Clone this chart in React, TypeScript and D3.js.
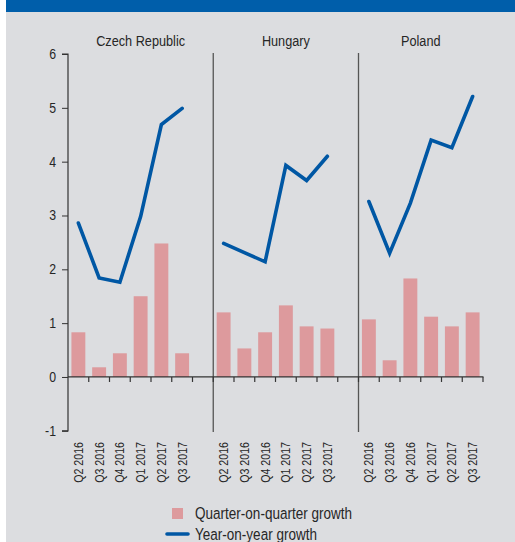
import React, { useEffect, useRef } from 'react';
import * as d3 from 'd3';

const countries = ['Czech Republic', 'Hungary', 'Poland'];
const quarters = ['Q2 2016', 'Q3 2016', 'Q4 2016', 'Q1 2017', 'Q2 2017', 'Q3 2017'];

// quarter-on-quarter growth (bars)
const qoqCzech = [0.83, 0.18, 0.44, 1.5, 2.48, 0.44];
const qoqHungary = [1.2, 0.53, 0.83, 1.33, 0.94, 0.9];
const qoqPoland = [1.07, 0.31, 1.83, 1.12, 0.94, 1.2];

// year-on-year growth (lines)
const yoyCzech = [2.86, 1.84, 1.76, 2.98, 4.69, 4.99];
const yoyHungary = [2.48, 2.31, 2.14, 3.93, 3.65, 4.1];
const yoyPoland = [3.26, 2.3, 3.23, 4.4, 4.26, 5.21];

const yTicks = [-1, 0, 1, 2, 3, 4, 5, 6];

const W = 515;
const H = 542;
const FONT = '"Liberation Sans", Arial, sans-serif';
const NARROW = 0.82; // squeeze to get an Arial Narrow look
const BAR = '#dd9a9d';
const LINE = '#0057a4';

export default function App() {
    const ref = useRef<SVGSVGElement>(null);

    useEffect(() => {
        draw(ref.current!);
    }, []);

    return (
        <div style={{ position: 'fixed', left: 0, top: 0 }}>
            <svg ref={ref} width={W} height={H} />
        </div>
    );
}

const label = (g: any, tx: number, ty: number, txt: string, size: number, anchor: string, rot = 0) => {
    return g.append('text')
        .attr('transform', `translate(${tx},${ty})${rot ? ` rotate(${rot})` : ''} scale(${NARROW},1)`)
        .attr('text-anchor', anchor)
        .attr('font-family', FONT)
        .attr('font-size', size)
        .attr('fill', '#262626')
        .text(txt);
};

const draw = (node: SVGSVGElement) => {
    const svg = d3.select(node);
    svg.selectAll('*').remove();

    const qoq = [qoqCzech, qoqHungary, qoqPoland];
    const yoy = [yoyCzech, yoyHungary, yoyPoland];

    // slots: 6 quarters per country, with an empty slot after the first two groups
    const slots: string[] = [];
    countries.forEach((c, ci) => {
        quarters.forEach((q) => slots.push(c + '|' + q));
        if (ci < countries.length - 1) slots.push('gap' + ci);
    });

    const x = d3.scaleBand<string>().domain(slots).range([68, 483]).padding(0);
    const y = d3.scaleLinear().domain([-1, 6]).range([430.8, 54]);
    const barW = x.bandwidth() * 0.67;

    // background
    svg.append('rect').attr('x', 6).attr('y', 0).attr('width', W - 6).attr('height', H).attr('fill', '#dcdde0');
    svg.append('rect').attr('x', 6).attr('y', 0).attr('width', W - 6).attr('height', 12).attr('fill', '#005eaa');

    // group dividers
    countries.forEach((c, ci) => {
        if (ci === 0) return;
        const gx = x(c + '|' + quarters[0])!;
        svg.append('line')
            .attr('x1', gx).attr('x2', gx)
            .attr('y1', 53).attr('y2', 432)
            .attr('stroke', '#555').attr('stroke-width', 1.3);
    });

    // titles
    countries.forEach((c) => {
        const x0 = x(c + '|' + quarters[0])!;
        const x1 = x(c + '|' + quarters[quarters.length - 1])! + x.bandwidth();
        const cx = c === 'Poland' ? (x0 + x1) / 2 : (x0 + x1 + x.bandwidth()) / 2;
        label(svg, cx, 46, c, 15.5, 'middle');
    });

    // bars
    countries.forEach((c, ci) => {
        svg.append('g').selectAll('rect')
            .data(qoq[ci])
            .enter()
            .append('rect')
            .attr('x', (d, i) => x(c + '|' + quarters[i])! + (x.bandwidth() - barW) / 2)
            .attr('y', (d) => y(Math.max(0, d)))
            .attr('width', barW)
            .attr('height', (d) => Math.abs(y(d) - y(0)))
            .attr('fill', BAR);
    });

    // lines
    const line = d3.line<[number, number]>().x((d) => d[0]).y((d) => d[1]);
    countries.forEach((c, ci) => {
        const pts: [number, number][] = yoy[ci].map((v, i) => [
            x(c + '|' + quarters[i])! + x.bandwidth() / 2,
            y(v),
        ]);
        svg.append('path')
            .attr('d', line(pts))
            .attr('fill', 'none')
            .attr('stroke', LINE)
            .attr('stroke-width', 3.6)
            .attr('stroke-linejoin', 'miter')
            .attr('stroke-linecap', 'round');
    });

    // y axis
    const yAxis = d3.axisLeft(y).tickValues(yTicks).tickSize(6).tickFormat(() => '');
    const ya = svg.append('g').attr('transform', 'translate(68,0)').call(yAxis);
    ya.select('.domain').attr('stroke', '#333').attr('stroke-width', 1.2).attr('d', `M-6,${y(6)}H0V${y(-1)}H-6`);
    ya.selectAll('.tick line').attr('stroke', '#333');
    yTicks.forEach((t) => {
        label(svg, 56, y(t) + 5, String(t), 15, 'end');
    });

    // x axis at zero with ticks on slot boundaries
    const xa = svg.append('g');
    xa.append('line')
        .attr('x1', 68).attr('x2', 483.5)
        .attr('y1', y(0)).attr('y2', y(0))
        .attr('stroke', '#333').attr('stroke-width', 1.2);
    const bounds = slots.map((s) => x(s)!).concat([x.range()[1]]);
    xa.selectAll('line.tk')
        .data(bounds.slice(1))
        .enter()
        .append('line')
        .attr('class', 'tk')
        .attr('x1', (d) => d).attr('x2', (d) => d)
        .attr('y1', y(0)).attr('y2', y(0) + 5)
        .attr('stroke', '#333').attr('stroke-width', 1.2);

    // x labels
    countries.forEach((c) => {
        quarters.forEach((q) => {
            const cx = x(c + '|' + q)! + x.bandwidth() / 2;
            label(svg, cx + 4.5, 442, q, 13, 'end', -90);
        });
    });

    // legend
    const lg = svg.append('g');
    lg.append('rect').attr('x', 172).attr('y', 508).attr('width', 11).attr('height', 11).attr('fill', BAR);
    label(lg, 195, 519, 'Quarter-on-quarter growth', 16.5, 'start');
    lg.append('line').attr('x1', 167).attr('x2', 188).attr('y1', 534).attr('y2', 534)
        .attr('stroke', LINE).attr('stroke-width', 3.6).attr('stroke-linecap', 'round');
    label(lg, 195, 539.5, 'Year-on-year growth', 16.5, 'start');
};
